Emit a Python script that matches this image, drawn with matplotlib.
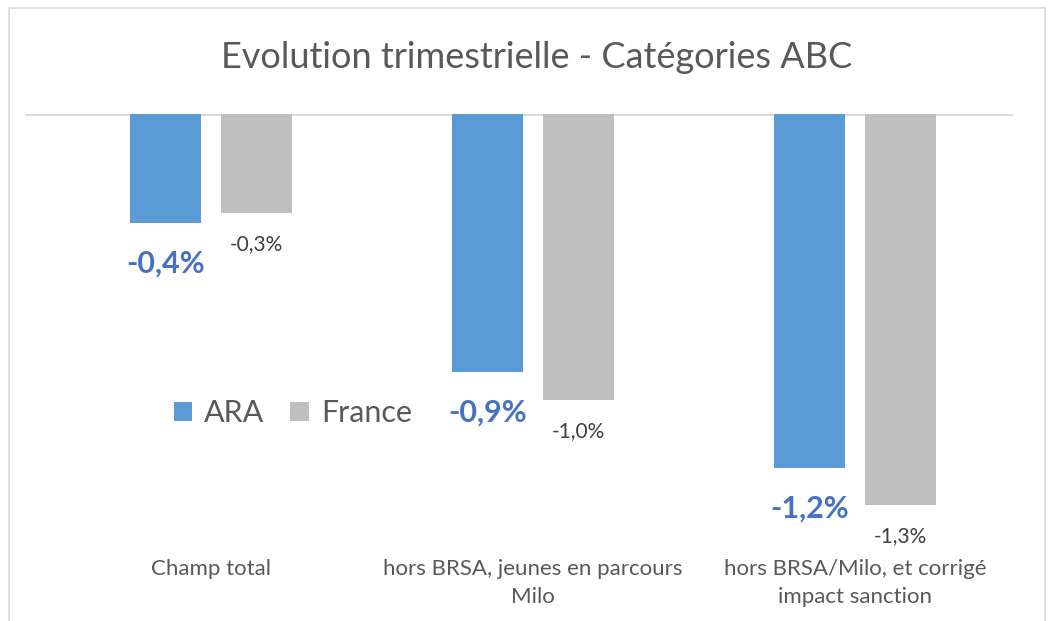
import numpy as np
import matplotlib.pyplot as plt
from matplotlib.patches import Rectangle

plt.rcParams['font.family'] = ['Lato', 'DejaVu Sans']

categories = ["Champ total", "hors BRSA, jeunes en parcours\nMilo",
              "hors BRSA/Milo, et corrigé\nimpact sanction"]
ara = [-0.37, -0.875, -1.20]
france = [-0.335, -0.97, -1.325]
ara_labels = ["-0,4%", "-0,9%", "-1,2%"]
france_labels = ["-0,3%", "-1,0%", "-1,3%"]

W, H = 1049, 621
fig = plt.figure(figsize=(W / 100, H / 100), dpi=100)

# chart border
fig.patches.append(Rectangle((9 / W, -0.05), (1045 - 9) / W, 1 - 8 / H + 0.05,
                             transform=fig.transFigure, fill=False,
                             edgecolor="#D9D9D9", lw=1.2))

ax_l, ax_r, ax_t, ax_b = 25, 1013, 114, 540
ax = fig.add_axes([ax_l / W, 1 - ax_b / H, (ax_r - ax_l) / W, (ax_b - ax_t) / H])

x = np.arange(len(categories))
bw = 0.22
off = 0.142
blue = "#5B9BD5"
grey = "#BFBFBF"
ax.bar(x - off, ara, bw, color=blue, label="ARA")
ax.bar(x + off, france, bw, color=grey, label="France")

ax.axhline(0, color="#D9D9D9", lw=2, zorder=0)

ppu = 322.0  # pixels per category
ax.set_xlim(-(211 - ax_l) / ppu, 2 + (ax_r - 855) / ppu)
ax.set_ylim(-(ax_b - ax_t) / 295.0, 0)

for xi, v, lab in zip(x, ara, ara_labels):
    ax.annotate(lab, (xi - off, v), xytext=(0, -19), textcoords="offset points",
                ha="center", va="top", fontsize=22, fontweight="bold", color="#4472C4")
for xi, v, lab in zip(x, france, france_labels):
    ax.annotate(lab, (xi + off, v), xytext=(0, -15), textcoords="offset points",
                ha="center", va="top", fontsize=15, color="#404040")

ax.set_xticks(x)
ax.set_xticklabels(categories, fontsize=16, color="#595959", linespacing=1.5)
ax.tick_params(axis="x", length=0, pad=14)
ax.set_yticks([])
for s in ax.spines.values():
    s.set_visible(False)
ax.patch.set_alpha(0)

leg = ax.legend(loc="center left", bbox_to_anchor=((146 - ax_l) / (ax_r - ax_l), 1 - (413 - ax_t) / (ax_b - ax_t)),
                ncol=2, frameon=False, fontsize=22, handlelength=0.6, handleheight=0.6,
                handletextpad=0.4, columnspacing=0.85)
for t in leg.get_texts():
    t.set_color("#595959")

fig.text(537 / W, 1 - 58 / H, "Evolution trimestrielle - Catégories ABC",
         ha="center", va="center", fontsize=26, color="#595959")

fig.savefig("out.png", dpi=100)
